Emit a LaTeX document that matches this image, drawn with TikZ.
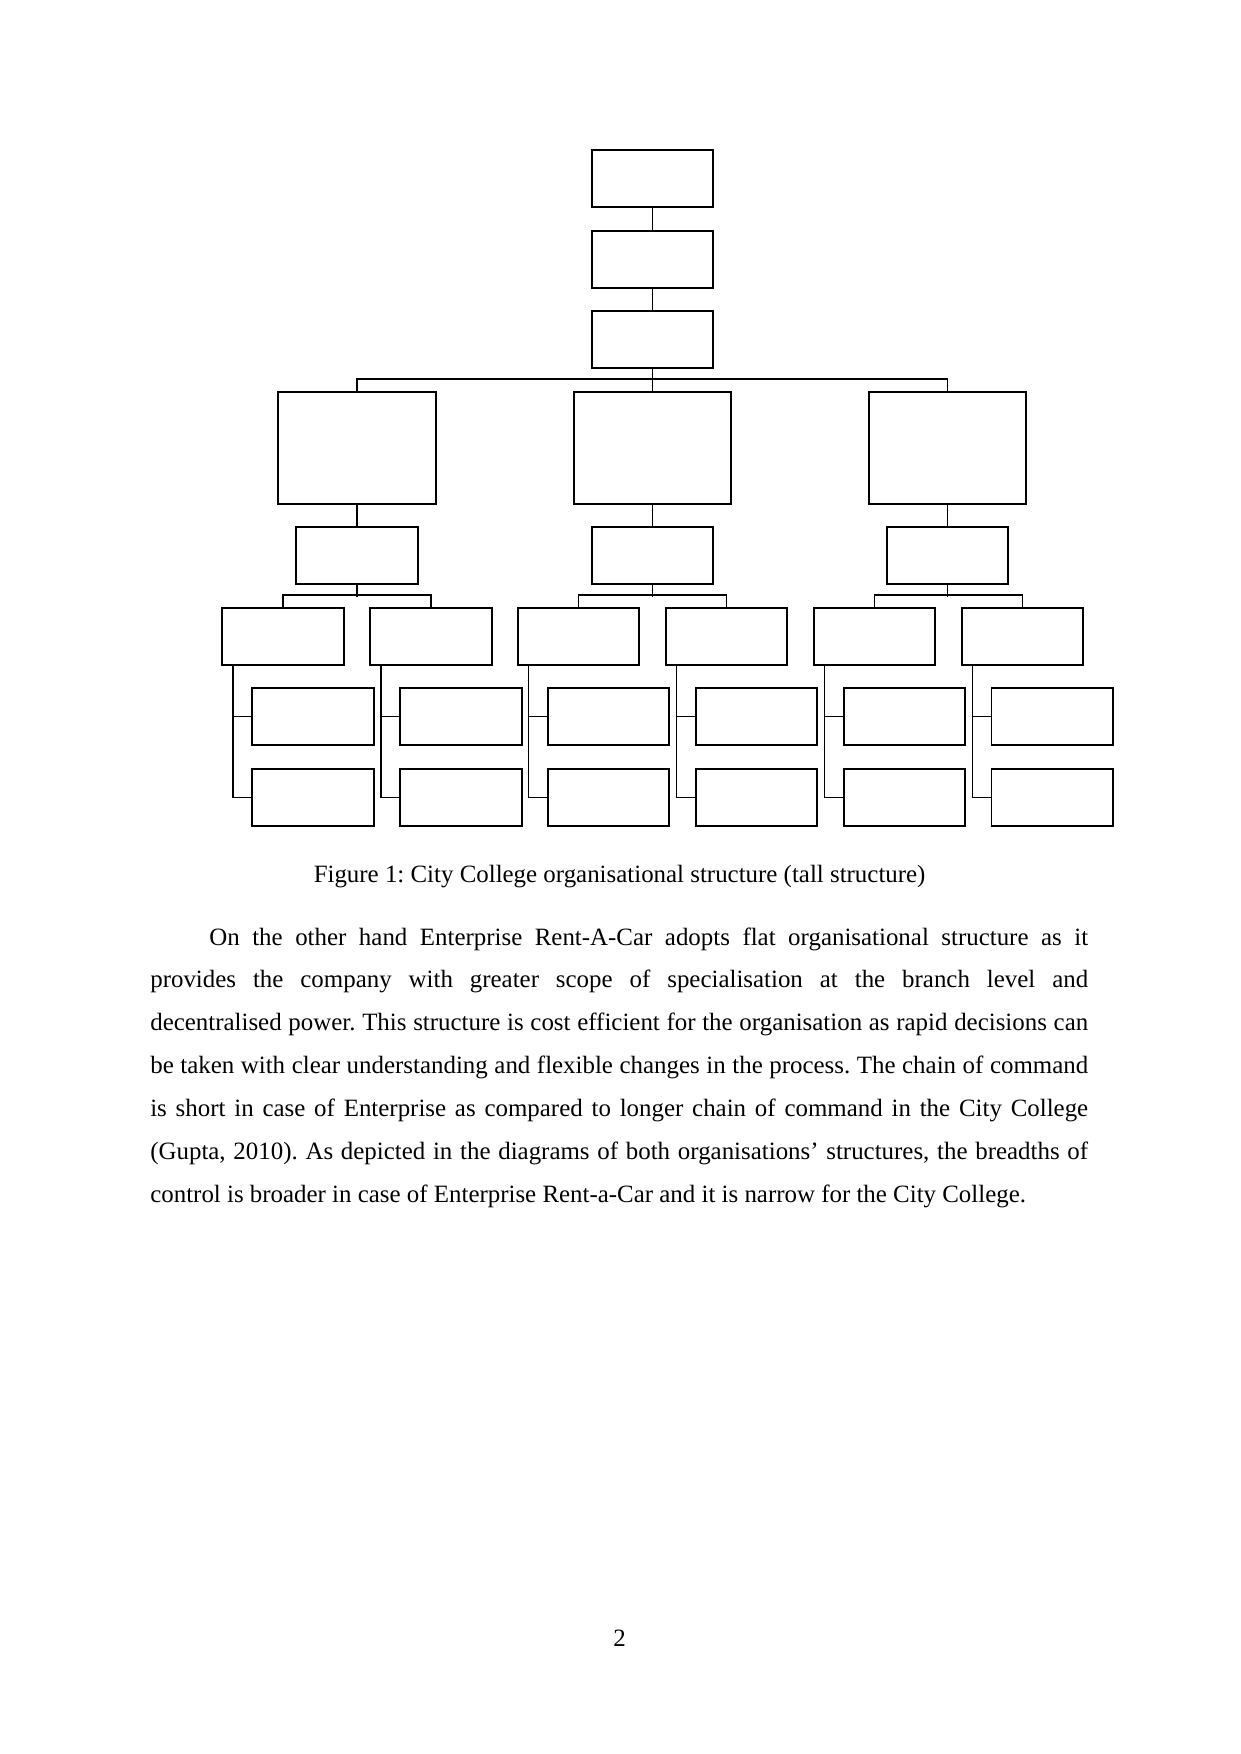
\documentclass[tikz,border=0pt]{standalone}
\usepackage{fontspec}
\setmainfont{Liberation Serif}
\usetikzlibrary{positioning}

\begin{document}
\frenchspacing
\begin{tikzpicture}[x=0.16922mm, y=-0.16933mm,
    caja/.style={draw, line width=0.95pt, minimum width=20.6mm, minimum height=9.6mm, inner sep=0pt},
    cajagrande/.style={caja, minimum width=26.7mm, minimum height=18.9mm},
    linea/.style={line width=0.8pt},
    texto/.style={font=\fontsize{12}{20.7}\selectfont, inner sep=0pt}]
    \useasboundingbox (0,0) rectangle (1241,1754);
    % Cadena superior
    \node[caja] (top) at (653,178.5) {};
    \node[caja] (b2) at (653,259.5) {};
    \node[caja] (b3) at (653,339.5) {};
    \draw[linea] (top) -- (b2);
    \draw[linea] (b2) -- (b3);
    % Departamentos
    \node[cajagrande] (bigL) at (357,448) {};
    \node[cajagrande] (bigM) at (653,448) {};
    \node[cajagrande] (bigR) at (948,448) {};
    \draw[linea] (b3) -- (bigM);
    \draw[linea] (bigL.north) -- ++(0,-12) -| (bigR.north);
    % Jefes de area
    \node[caja] (midL) at (357,555.5) {};
    \node[caja] (midM) at (653,555.5) {};
    \node[caja] (midR) at (948,555.5) {};
    \draw[linea] (bigL) -- (midL);
    \draw[linea] (bigM) -- (midM);
    \draw[linea] (bigR) -- (midR);
    % Nivel 6
    \node[caja] (c1) at (283,636.5) {};
    \node[caja] (c2) at (431,636.5) {};
    \node[caja] (c3) at (579,636.5) {};
    \node[caja] (c4) at (727,636.5) {};
    \node[caja] (c5) at (875,636.5) {};
    \node[caja] (c6) at (1023,636.5) {};
    \draw[linea] (midL.south) -- ++(0,12);
    \draw[linea] (midM.south) -- ++(0,12);
    \draw[linea] (midR.south) -- ++(0,12);
    \draw[linea] (c1.north) -- ++(0,-12) -| (c2.north);
    \draw[linea] (c3.north) -- ++(0,-12) -| (c4.north);
    \draw[linea] (c5.north) -- ++(0,-12) -| (c6.north);
    % Nivel 7
    \node[caja] (d1) at (313,716.5) {};
    \node[caja] (d2) at (461,716.5) {};
    \node[caja] (d3) at (609,716.5) {};
    \node[caja] (d4) at (757,716.5) {};
    \node[caja] (d5) at (905,716.5) {};
    \node[caja] (d6) at (1053,716.5) {};
    % Nivel 8
    \node[caja] (e1) at (313,797.5) {};
    \node[caja] (e2) at (461,797.5) {};
    \node[caja] (e3) at (609,797.5) {};
    \node[caja] (e4) at (757,797.5) {};
    \node[caja] (e5) at (905,797.5) {};
    \node[caja] (e6) at (1053,797.5) {};
    % Conectores laterales
    \draw[linea] ([xshift=2mm]c1.south west) |- (d1.west);
    \draw[linea] ([xshift=2mm]c1.south west) |- (e1.west);
    \draw[linea] ([xshift=2mm]c2.south west) |- (d2.west);
    \draw[linea] ([xshift=2mm]c2.south west) |- (e2.west);
    \draw[linea] ([xshift=2mm]c3.south west) |- (d3.west);
    \draw[linea] ([xshift=2mm]c3.south west) |- (e3.west);
    \draw[linea] ([xshift=2mm]c4.south west) |- (d4.west);
    \draw[linea] ([xshift=2mm]c4.south west) |- (e4.west);
    \draw[linea] ([xshift=2mm]c5.south west) |- (d5.west);
    \draw[linea] ([xshift=2mm]c5.south west) |- (e5.west);
    \draw[linea] ([xshift=2mm]c6.south west) |- (d6.west);
    \draw[linea] ([xshift=2mm]c6.south west) |- (e6.west);
    % Pie de figura y texto
    \node[texto, anchor=base] (pie) at (620,882) {Figure 1: City College organisational structure (tall structure)};
    \node[texto, anchor=base west, text width=158.8mm, align=justify] (parrafo) at (150,945) {\hspace*{10mm}On the other hand Enterprise Rent-A-Car adopts flat organisational structure as it\linebreak
    provides the company with greater scope of specialisation at the branch level and\linebreak
    decentralised power. This structure is cost efficient for the organisation as rapid decisions can\linebreak
    be taken with clear understanding and flexible changes in the process. The chain of command\linebreak
    is short in case of Enterprise as compared to longer chain of command in the City College\linebreak
    (Gupta, 2010). As depicted in the diagrams of both organisations’ structures, the breadths of\linebreak
    control is broader in case of Enterprise Rent-a-Car and it is narrow for the City College.};
    \node[texto, anchor=base] (pagina) at (620,1646) {2};
\end{tikzpicture}
\end{document}
